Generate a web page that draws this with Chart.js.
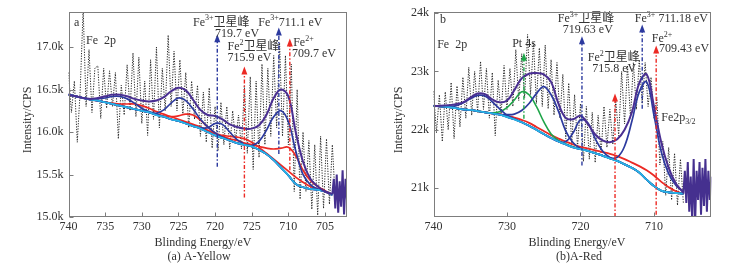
<!DOCTYPE html>
<html>
<head>
<meta charset="utf-8">
<script src="https://cdn.jsdelivr.net/npm/chart.js@4.4.1/dist/chart.umd.min.js"></script>
<style>
  html, body { margin: 0; padding: 0; background: #fff; }
  #wrap { position: relative; width: 745px; height: 274px; }
  canvas { position: absolute; top: 0; }
  #cA { left: 0; }
  #cB { left: 372px; }
</style>
</head>
<body>
<div id="wrap">
  <canvas id="cA" width="372" height="274"></canvas>
  <canvas id="cB" width="373" height="274"></canvas>
</div>
<script>
// ---- panel (a) A-Yellow : values in k CPS ----
const aGridE = [740,739,738,737,736,735,734,733,732,731,730,729,728,727,726,725,724,723,722,721,720,719,718,717,716,715,714,713,712,711,710,709,708,707,706,705,704];
const aCyan  = [16.44,16.42,16.40,16.38,16.37,16.35,16.33,16.31,16.29,16.27,16.25,16.23,16.20,16.18,16.15,16.13,16.10,16.07,16.04,16.00,15.96,15.93,15.90,15.87,15.85,15.83,15.79,15.74,15.67,15.58,15.49,15.39,15.35,15.33,15.32,15.30,15.26];
const aRedA  = [16.44,16.42,16.40,16.38,16.37,16.35,16.34,16.33,16.33,16.33,16.31,16.28,16.24,16.21,16.18,16.15,16.12,16.09,16.06,16.02,15.98,15.96,15.95,15.94,15.92,15.88,15.82,15.75,15.68,15.61,15.54,15.47,15.41,15.36,15.33,15.30,15.26];
const aRedB  = [16.44,16.42,16.40,16.38,16.37,16.35,16.33,16.31,16.29,16.27,16.25,16.23,16.21,16.19,16.18,16.19,16.21,16.20,16.14,16.06,15.99,15.95,15.92,15.90,15.87,15.85,15.83,15.81,15.80,15.81,15.82,15.72,15.55,15.43,15.36,15.31,15.26];
const aBlue1 = [16.44,16.42,16.40,16.39,16.39,16.40,16.42,16.42,16.39,16.34,16.28,16.24,16.21,16.18,16.15,16.13,16.10,16.07,16.04,16.00,15.96,15.93,15.90,15.87,15.85,15.83,15.79,15.74,15.67,15.58,15.49,15.39,15.35,15.33,15.32,15.30,15.26];
const aBlue2 = [16.44,16.42,16.40,16.38,16.37,16.35,16.33,16.31,16.29,16.27,16.25,16.23,16.22,16.26,16.34,16.40,16.37,16.27,16.15,16.06,15.99,15.94,15.90,15.87,15.85,15.83,15.79,15.74,15.67,15.58,15.49,15.39,15.35,15.33,15.32,15.30,15.26];
const aBlue3 = [16.44,16.42,16.40,16.38,16.37,16.35,16.33,16.31,16.29,16.27,16.25,16.23,16.20,16.18,16.15,16.13,16.10,16.07,16.05,16.05,16.10,16.09,16.00,15.91,15.86,15.83,15.79,15.74,15.67,15.58,15.49,15.39,15.35,15.33,15.32,15.30,15.26];
const aBlue4 = [16.44,16.42,16.40,16.38,16.37,16.35,16.33,16.31,16.29,16.27,16.25,16.23,16.20,16.18,16.15,16.13,16.10,16.07,16.04,16.00,15.96,15.93,15.90,15.87,15.85,15.84,15.89,16.02,16.18,16.25,16.12,15.78,15.50,15.38,15.33,15.30,15.26];
const aEnv   = [16.44,16.42,16.40,16.39,16.40,16.42,16.44,16.44,16.42,16.39,16.37,16.36,16.37,16.41,16.48,16.52,16.49,16.38,16.26,16.20,16.19,16.15,16.09,16.06,16.04,16.04,16.08,16.20,16.40,16.50,16.42,16.00,15.65,15.45,15.36,15.30,15.27];
const aTailE = [704.0,703.8,703.6,703.4,703.2,703.0,702.8,702.6,702.4,702.2,702.0];
const aTailV = [15.27,15.45,15.10,15.50,15.05,15.42,15.12,15.55,15.03,15.45,15.20];
// raw spectrum, sampled every 0.4 eV from 740 eV
const aRawStart = 740, aRawStep = 0.4;
const aRaw = [16.70,16.23,16.60,15.88,16.50,17.45,16.30,16.97,16.23,16.75,
              16.78,16.16,16.75,16.28,16.72,16.30,16.70,15.92,16.55,16.20,
              16.79,16.25,16.93,16.18,16.88,16.10,16.60,15.96,16.85,16.15,
              17.00,16.05,16.75,16.25,17.14,16.30,16.95,16.25,16.85,16.20,
              16.70,16.05,16.60,16.15,16.55,15.95,16.47,15.88,16.52,15.81,
              16.30,15.78,16.35,15.85,16.30,15.80,16.25,15.90,16.20,15.80,
              16.55,15.75,16.65,15.56,16.60,15.70,16.80,15.85,16.75,15.95,
              16.90,16.05,17.05,15.95,16.90,15.85,16.80,15.30,16.50,15.21,
              16.00,15.30,15.90,15.09,15.85,15.02,15.95,15.10,15.92,15.15,
              15.85,15.20];
const aArrowE   = [719.7, 716.0, 711.3, 709.8];
const aArrowTop = [17.15, 16.77, 17.23, 17.10];
const aArrowBot = [15.59, 15.23, 15.74, 15.55];
const aXTicks = [740,735,730,725,720,715,710,705];
const aXTickLabels = ['740','735','730','725','720','725','710','705'];
const aYTicks = [15.0,15.5,16.0,16.5,17.0];
const aYTickLabels = ['15.0k','15.5k','16.0k','16.5k','17.0k'];

// ---- panel (b) A-Red ----
const bGridE = [740,739,738,737,736,735,734,733,732,731,730,729,728,727,726,725,724,723,722,721,720,719,718,717,716,715,714,713,712,711,710,709,708,707,706];
const bCyan  = [22.41,22.40,22.39,22.37,22.35,22.34,22.32,22.30,22.28,22.26,22.22,22.18,22.13,22.07,22.00,21.93,21.86,21.80,21.75,21.70,21.67,21.64,21.60,21.56,21.51,21.47,21.41,21.35,21.27,21.15,21.04,20.96,20.93,20.92,20.91];
const bRed   = [22.41,22.40,22.39,22.37,22.35,22.34,22.32,22.30,22.28,22.27,22.24,22.21,22.17,22.12,22.05,21.98,21.91,21.85,21.80,21.75,21.71,21.68,21.65,21.62,21.59,21.55,21.50,21.44,21.38,21.31,21.22,21.11,21.02,20.95,20.91];
const bGreen = [22.41,22.40,22.39,22.37,22.35,22.34,22.32,22.30,22.29,22.31,22.38,22.51,22.65,22.60,22.40,22.14,21.93,21.82,21.76,21.71,21.67,21.64,21.60,21.56,21.51,21.47,21.41,21.35,21.27,21.15,21.04,20.96,20.93,20.92,20.91];
const bBlue1 = [22.41,22.40,22.40,22.41,22.46,22.53,22.59,22.58,22.48,22.36,22.25,22.19,22.13,22.07,22.00,21.93,21.86,21.80,21.75,21.70,21.67,21.64,21.60,21.56,21.51,21.47,21.41,21.35,21.27,21.15,21.04,20.96,20.93,20.92,20.91];
const bBlue2 = [22.41,22.40,22.39,22.37,22.35,22.34,22.32,22.30,22.28,22.26,22.26,22.27,22.33,22.45,22.62,22.74,22.60,22.32,21.98,21.78,21.68,21.64,21.60,21.56,21.51,21.47,21.41,21.35,21.27,21.15,21.04,20.96,20.93,20.92,20.91];
const bBlue3 = [22.41,22.40,22.39,22.37,22.35,22.34,22.32,22.30,22.28,22.26,22.22,22.18,22.13,22.07,22.00,21.93,21.86,21.80,21.80,21.95,22.17,22.12,21.85,21.64,21.53,21.47,21.41,21.35,21.27,21.15,21.04,20.96,20.93,20.92,20.91];
const bBlue4 = [22.41,22.40,22.39,22.37,22.35,22.34,22.32,22.30,22.28,22.26,22.22,22.18,22.13,22.07,22.00,21.93,21.86,21.80,21.75,21.70,21.67,21.64,21.60,21.56,21.52,21.53,21.72,22.15,22.65,22.82,22.25,21.62,21.25,21.05,20.94];
const bEnv   = [22.41,22.41,22.42,22.44,22.47,22.55,22.62,22.61,22.52,22.47,22.50,22.68,22.88,22.96,22.97,22.95,22.82,22.45,22.20,22.18,22.24,22.10,21.92,21.82,21.79,21.84,22.00,22.30,22.80,22.95,22.40,21.78,21.35,21.08,20.93];
const bTailE = [706.0,705.8,705.6,705.4,705.2,705.0,704.8,704.6,704.4,704.2,704.0,703.8,703.6,703.4,703.2,703.0,702.8,702.6,702.4,702.2];
const bTailV = [20.91,21.30,20.75,21.45,20.60,21.20,20.45,21.50,20.40,21.30,20.80,21.45,20.55,21.35,20.70,21.50,20.60,21.30,20.80,21.20];
const bRawStart = 740, bRawStep = 0.4;
const bRaw = [22.66,21.95,22.60,21.80,22.65,22.00,22.81,21.85,22.75,22.05,
              22.90,22.20,23.07,22.25,23.00,22.30,23.17,22.35,23.05,22.20,
              22.98,21.90,22.85,22.25,23.10,22.35,23.05,22.40,23.37,22.50,
              23.30,22.55,23.63,22.60,23.50,22.45,23.40,22.40,23.45,22.36,
              23.20,22.25,23.15,22.20,22.95,21.85,22.80,21.75,22.60,21.70,
              22.45,21.46,22.40,21.50,22.30,21.44,22.25,21.60,22.40,21.70,
              22.35,21.75,22.50,21.90,23.00,22.10,23.10,22.20,23.15,22.35,
              23.20,22.45,23.15,22.40,22.90,22.20,22.55,21.40,21.80,20.88,
              21.70,20.80,21.60,20.71,21.50,20.75];
const bArrowE   = [727.7, 719.8, 715.3, 711.6, 709.7];
const bArrowTop = [23.32, 23.60, 22.62, 23.80, 23.44];
const bArrowBot = [22.19, 21.39, 20.51, 22.36, 20.55];
const bXTicks = [740,730,720,710];
const bXTickLabels = ['740','730','720','710'];
const bYTicks = [21,22,23,24];
const bYTickLabels = ['21k','22k','23k','24k'];

const FONT = '"Liberation Serif", "Times New Roman", "Noto Sans CJK SC", serif';
const TXT = '#333';
const C = {
  env: '#4a2f92', blue: '#2c3a9f', red: '#ec2a24', cyan: '#28b4e6',
  green: '#1fa549', tail: '#45308f', raw: '#262626'
};

Chart.defaults.font.family = FONT;
Chart.defaults.font.size = 12;
Chart.defaults.color = TXT;

function pts(es, vs) { return es.map((e, i) => ({ x: e, y: vs[i] })); }
function rawPts(start, step, vs) { return vs.map((v, i) => ({ x: +(start - step * i).toFixed(2), y: v })); }

function curve(data, color, width, extra) {
  return Object.assign({
    data: data, borderColor: color, borderWidth: width,
    pointRadius: 0, tension: 0.4, fill: false
  }, extra || {});
}

// superscript / subscript text pieces drawn one after another
function drawRich(ctx, parts, x, y) {
  let cx = x;
  parts.forEach(p => {
    const small = p[1] === 'sup' || p[1] === 'sub';
    ctx.font = (small ? 8 : 12) + 'px ' + FONT;
    const dy = p[1] === 'sup' ? -4 : p[1] === 'sub' ? 4 : 0;
    ctx.fillText(p[0], cx, y + dy);
    cx += ctx.measureText(p[0]).width;
  });
}

const deco = {
  id: 'deco',
  afterDatasetsDraw(chart, args, o) {
    const { ctx, chartArea: a, scales: { x, y } } = chart;
    ctx.save();
    ctx.beginPath();
    ctx.rect(a.left, a.top, a.width, a.height);
    ctx.clip();
    // arrows
    o.arrowE.forEach((e, i) => {
      const px = x.getPixelForValue(e);
      const top = y.getPixelForValue(o.arrowTop[i]);
      const bot = y.getPixelForValue(o.arrowBot[i]);
      ctx.strokeStyle = o.arrowColors[i];
      ctx.fillStyle = o.arrowColors[i];
      ctx.lineWidth = 1.4;
      ctx.setLineDash([4, 2, 1.5, 2]);
      ctx.beginPath(); ctx.moveTo(px, bot); ctx.lineTo(px, top + 5); ctx.stroke();
      ctx.setLineDash([]);
      ctx.beginPath();
      ctx.moveTo(px, top); ctx.lineTo(px - 3, top + 8); ctx.lineTo(px + 3, top + 8);
      ctx.closePath(); ctx.fill();
    });
    ctx.restore();

    // labels
    ctx.save();
    ctx.fillStyle = TXT;
    ctx.textBaseline = 'middle';
    ctx.textAlign = 'left';
    o.labels.forEach(l => drawRich(ctx, l.p, x.getPixelForValue(l.e), y.getPixelForValue(l.v)));

    // frame + inward ticks
    const L = Math.round(a.left) + 0.5, R = Math.round(a.right) - 0.5;
    const T = Math.round(a.top) + 0.5, B = Math.round(a.bottom) - 0.5;
    ctx.strokeStyle = '#7d7d7d';
    ctx.lineWidth = 1;
    ctx.strokeRect(L, T, R - L, B - T);
    ctx.beginPath();
    o.xTicks.forEach(t => { const px = Math.round(x.getPixelForValue(t)) + 0.5; ctx.moveTo(px, B); ctx.lineTo(px, B - 4); });
    o.yTicks.forEach(t => { const py = Math.round(y.getPixelForValue(t)) + 0.5; ctx.moveTo(L, py); ctx.lineTo(L + 4, py); });
    ctx.stroke();
    ctx.restore();
  },
  afterDraw(chart, args, o) {
    const ctx = chart.ctx;
    ctx.save();
    ctx.fillStyle = TXT;
    ctx.textAlign = 'center';
    ctx.textBaseline = 'middle';
    ctx.font = '12px ' + FONT;
    ctx.fillText('Blinding Energy/eV', o.xTitleX, 243);
    ctx.fillText(o.caption, o.captionX, 257);
    ctx.translate(o.yTitleX, 120);
    ctx.rotate(-Math.PI / 2);
    ctx.fillText('Intensity/CPS', 0, 0);
    ctx.restore();
  }
};

function makePanel(id, p) {
  return new Chart(document.getElementById(id), {
    type: 'line',
    data: { datasets: p.datasets },
    options: {
      responsive: false,
      animation: false,
      devicePixelRatio: 1,
      events: [],
      layout: { padding: { left: 0, top: 10, right: p.padRight, bottom: 0 } },
      plugins: { legend: { display: false }, tooltip: { enabled: false }, deco: p.deco },
      scales: {
        x: {
          type: 'linear', reverse: true, min: p.xMin, max: p.xMax,
          grid: { display: false, drawTicks: false }, border: { display: false },
          afterBuildTicks: s => { s.ticks = p.xTicks.map(v => ({ value: v })); },
          afterFit: s => { s.height = 57; },
          ticks: { padding: 3, maxRotation: 0, autoSkip: false,
                   callback: v => p.xTickLabels[p.xTicks.indexOf(v)] }
        },
        y: {
          min: p.yMin, max: p.yMax,
          grid: { display: false, drawTicks: false }, border: { display: false },
          afterBuildTicks: s => { s.ticks = p.yTicks.map(v => ({ value: v })); },
          afterFit: s => { s.width = p.yWidth; },
          ticks: { padding: p.yPad, callback: v => p.yTickLabels[p.yTicks.indexOf(v)] }
        }
      }
    },
    plugins: [deco]
  });
}

// dataset order: first in list is drawn on top
makePanel('cA', {
  xMin: 702, xMax: 740, yMin: 15.0, yMax: 17.41, padRight: 25, yWidth: 68.5, yPad: 5,
  xTicks: aXTicks, xTickLabels: aXTickLabels, yTicks: aYTicks, yTickLabels: aYTickLabels,
  datasets: [
    curve(pts(aTailE, aTailV), C.tail, 2, { tension: 0 }),
    curve(pts(aGridE, aEnv), C.env, 2),
    curve(pts(aGridE, aCyan), C.cyan, 1.8),
    curve(pts(aGridE, aBlue4), C.blue, 1.7),
    curve(pts(aGridE, aBlue3), C.blue, 1.7),
    curve(pts(aGridE, aBlue2), C.blue, 1.7),
    curve(pts(aGridE, aBlue1), C.blue, 1.7),
    curve(pts(aGridE, aRedB), C.red, 1.7),
    curve(pts(aGridE, aRedA), C.red, 1.7),
    curve(rawPts(aRawStart, aRawStep, aRaw), C.raw, 1, { tension: 0, borderDash: [1.2, 1.4] })
  ],
  deco: {
    arrowE: aArrowE, arrowTop: aArrowTop, arrowBot: aArrowBot,
    arrowColors: [C.blue, C.red, C.blue, C.red],
    xTicks: aXTicks, yTicks: aYTicks,
    xTitleX: 203, captionX: 199, yTitleX: 28, caption: '(a) A-Yellow',
    labels: [
      { p: [['a']], e: 739.25, v: 17.29 },
      { p: [['Fe  2p']], e: 737.6, v: 17.07 },
      { p: [['Fe'], ['3+', 'sup'], ['卫星峰']], e: 723.0, v: 17.29 },
      { p: [['719.7 eV']], e: 720.0, v: 17.16 },
      { p: [['Fe'], ['3+', 'sup'], ['711.1 eV']], e: 714.1, v: 17.29 },
      { p: [['Fe'], ['2', 'sup'], ['卫星峰']], e: 718.3, v: 17.0 },
      { p: [['715.9 eV']], e: 718.3, v: 16.87 },
      { p: [['Fe'], ['2+', 'sup']], e: 709.35, v: 17.05 },
      { p: [['709.7 eV']], e: 709.5, v: 16.92 }
    ]
  }
});

makePanel('cB', {
  xMin: 702.2, xMax: 740, yMin: 20.51, yMax: 24.02, padRight: 33.7, yWidth: 61.5, yPad: 4.5,
  xTicks: bXTicks, xTickLabels: bXTickLabels, yTicks: bYTicks, yTickLabels: bYTickLabels,
  datasets: [
    curve(pts(bTailE, bTailV), C.tail, 2, { tension: 0 }),
    curve(pts(bGridE, bEnv), C.env, 2),
    curve(pts(bGridE, bCyan), C.cyan, 1.8),
    curve(pts(bGridE, bBlue4), C.blue, 1.7),
    curve(pts(bGridE, bBlue3), C.blue, 1.7),
    curve(pts(bGridE, bBlue2), C.blue, 1.7),
    curve(pts(bGridE, bBlue1), C.blue, 1.7),
    curve(pts(bGridE, bGreen), C.green, 1.6),
    curve(pts(bGridE, bRed), C.red, 1.8),
    curve(rawPts(bRawStart, bRawStep, bRaw), C.raw, 1, { tension: 0, borderDash: [1.2, 1.4] })
  ],
  deco: {
    arrowE: bArrowE, arrowTop: bArrowTop, arrowBot: bArrowBot,
    arrowColors: [C.green, C.blue, C.red, C.blue, C.red],
    xTicks: bXTicks, yTicks: bYTicks,
    xTitleX: 205, captionX: 207, yTitleX: 27, caption: '(b)A-Red',
    labels: [
      { p: [['b']], e: 739.1, v: 23.88 },
      { p: [['Fe  2p']], e: 739.5, v: 23.46 },
      { p: [['Pt 4s']], e: 729.3, v: 23.47 },
      { p: [['Fe'], ['3+', 'sup'], ['卫星峰']], e: 723.1, v: 23.9 },
      { p: [['719.63 eV']], e: 722.4, v: 23.71 },
      { p: [['Fe'], ['3+', 'sup'], [' 711.18 eV']], e: 712.6, v: 23.89 },
      { p: [['Fe'], ['2+', 'sup']], e: 710.3, v: 23.56 },
      { p: [['709.43 eV']], e: 709.3, v: 23.38 },
      { p: [['Fe'], ['2', 'sup'], ['卫星峰']], e: 719.0, v: 23.23 },
      { p: [['715.8 eV']], e: 718.4, v: 23.04 },
      { p: [['Fe2p'], ['3/2', 'sub']], e: 709.0, v: 22.21 }
    ]
  }
});
</script>
</body>
</html>
